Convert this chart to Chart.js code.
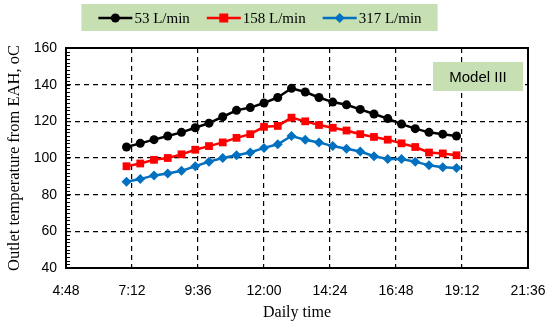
<!DOCTYPE html>
<html>
<head>
<meta charset="utf-8">
<script src="https://cdn.jsdelivr.net/npm/chart.js@4.4.1/dist/chart.umd.min.js"></script>
<style>
  html, body { margin: 0; padding: 0; background: #fff; }
  #wrap { width: 550px; height: 324px; }
</style>
</head>
<body>
<div id="wrap"><canvas id="chart"></canvas></div>
<script>
// Measurements every 30 min, 7:00 - 19:00
const times = ['7:00','7:30','8:00','8:30','9:00','9:30','10:00','10:30','11:00','11:30','12:00','12:30',
               '13:00','13:30','14:00','14:30','15:00','15:30','16:00','16:30','17:00','17:30','18:00','18:30','19:00'];
const flow53  = [106, 108, 110, 112, 114, 116.5, 119, 122.5, 126, 127.5, 130, 133,
                 138, 136, 133, 130.5, 129, 126.5, 124, 121.5, 118.5, 116, 114, 113, 112];
const flow158 = [95.5, 97, 99, 100, 102, 104.5, 106.5, 108.5, 111, 113, 117, 117.5,
                 122, 120, 118, 116.5, 115, 113, 111.5, 110, 108, 106, 103, 102.5, 101.5];
const flow317 = [87, 88.5, 90.5, 91.5, 93, 95.5, 98, 100, 101.5, 103, 105.5, 107.5,
                 112, 110, 108.5, 106.5, 105, 103.5, 101, 99.5, 99.5, 98, 96, 95, 94.5];
const seriesLabels = ['53 L/min', '158 L/min', '317 L/min'];
const xTickLabels = ['4:48', '7:12', '9:36', '12:00', '14:24', '16:48', '19:12', '21:36'];
const yTickValues = [40, 60, 80, 100, 120, 140, 160];

const toHours = t => { const [h, m] = t.split(':').map(Number); return h + m / 60; };
const fmtTime = v => {
    let h = Math.floor(v + 1e-6);
    let m = Math.round((v - h) * 60);
    if (m === 60) { h += 1; m = 0; }
    return h + ':' + String(m).padStart(2, '0');
};
const pts = arr => arr.map((y, i) => ({ x: toHours(times[i]), y: y }));

const styles = [
    { color: '#000000', pointStyle: 'circle', radius: 4.5 },
    { color: '#ff0000', pointStyle: 'rect', radius: 5.5 },
    { color: '#0070c0', pointStyle: 'rectRot', radius: 5 }
];
const serif = '"Liberation Serif", "Times New Roman", serif';
const sans = '"Liberation Sans", Arial, sans-serif';

function drawMarker(ctx, st, x, y) {
    ctx.beginPath();
    if (st.pointStyle === 'circle') ctx.arc(x, y, 4.5, 0, Math.PI * 2);
    else if (st.pointStyle === 'rect') ctx.rect(x - 4.5, y - 4.5, 9, 9);
    else { ctx.moveTo(x, y - 5); ctx.lineTo(x + 5, y); ctx.lineTo(x, y + 5); ctx.lineTo(x - 5, y); ctx.closePath(); }
    ctx.fill();
}

const boxesPlugin = {
    id: 'boxes',
    beforeDatasetsDraw(chart) {
        const { ctx, chartArea: a, scales: { y } } = chart;
        ctx.save();
        // minor ticks on the value axis
        ctx.strokeStyle = '#000'; ctx.lineWidth = 1;
        for (let v = y.min; v <= y.max; v += 2) {
            const py = Math.round(y.getPixelForValue(v)) + 0.5;
            ctx.beginPath(); ctx.moveTo(a.left, py); ctx.lineTo(a.left + 4, py); ctx.stroke();
        }
        ctx.lineWidth = 2;
        ctx.strokeRect(a.left, a.top, a.right - a.left, a.bottom - a.top);
        // "Model III" label
        const bx = a.right - 95, by = a.top + 14, bw = 90, bh = 29;
        ctx.fillStyle = '#c6e0b4';
        ctx.fillRect(bx, by, bw, bh);
        ctx.fillStyle = '#000';
        ctx.font = '15px ' + sans;
        ctx.textAlign = 'center'; ctx.textBaseline = 'middle';
        ctx.fillText('Model III', bx + bw / 2, by + bh / 2 + 1);
        ctx.restore();
    },
    afterDraw(chart) {
        // legend: line + marker, then label, on a green band
        const ctx = chart.ctx;
        const ds = chart.data.datasets;
        ctx.save();
        ctx.font = '15px ' + serif;
        const iconW = 34, textGap = 2, itemGap = 17;
        const widths = ds.map(d => iconW + textGap + ctx.measureText(d.label).width);
        const total = widths.reduce((s, w) => s + w, 0) + itemGap * (ds.length - 1);
        const cx = (chart.chartArea.left + chart.chartArea.right) / 2 - 37;
        let x = cx - total / 2;
        const cy = 18;
        ctx.fillStyle = '#c6e0b4';
        ctx.fillRect(x - 17, 4, total + 33, 27);
        ds.forEach((d, i) => {
            const st = styles[i];
            ctx.strokeStyle = st.color; ctx.fillStyle = st.color; ctx.lineWidth = 2.5;
            ctx.beginPath(); ctx.moveTo(x, cy); ctx.lineTo(x + iconW, cy); ctx.stroke();
            drawMarker(ctx, st, x + iconW / 2, cy);
            ctx.fillStyle = '#000';
            ctx.textAlign = 'left'; ctx.textBaseline = 'middle';
            ctx.fillText(d.label, x + iconW + textGap, cy + 1);
            x += widths[i] + itemGap;
        });
        ctx.restore();
    }
};

const noPad = s => { s.paddingLeft = 0; s.paddingRight = 0; s.paddingTop = 0; s.paddingBottom = 0; };

new Chart(document.getElementById('chart'), {
    type: 'line',
    data: {
        datasets: [flow53, flow158, flow317].map((arr, i) => ({
            label: seriesLabels[i],
            data: pts(arr),
            borderColor: styles[i].color,
            backgroundColor: styles[i].color,
            borderWidth: 2.5,
            pointStyle: styles[i].pointStyle,
            pointRadius: styles[i].radius,
            pointBorderWidth: 0,
            tension: 0,
            fill: false
        }))
    },
    options: {
        responsive: true,
        maintainAspectRatio: false,
        animation: false,
        layout: { padding: { top: 48, right: 22, left: 0, bottom: 0 } },
        plugins: {
            legend: { display: false },
            tooltip: { enabled: false }
        },
        scales: {
            x: {
                type: 'linear',
                min: toHours(xTickLabels[0]),
                max: toHours(xTickLabels[xTickLabels.length - 1]),
                afterBuildTicks: s => { s.ticks = xTickLabels.map(t => ({ value: toHours(t) })); },
                afterFit: s => { s.height = 56; noPad(s); },
                grid: { color: '#000', lineWidth: 1.2, drawTicks: false },
                border: { display: false, dash: [5, 4] },
                ticks: {
                    padding: 15,
                    color: '#000',
                    font: { family: sans, size: 14 },
                    callback: v => fmtTime(v)
                },
                title: {
                    display: true,
                    text: 'Daily time',
                    color: '#000',
                    padding: { top: 2, bottom: 2 },
                    font: { family: serif, size: 16 }
                }
            },
            y: {
                min: yTickValues[0],
                max: yTickValues[yTickValues.length - 1],
                afterBuildTicks: s => { s.ticks = yTickValues.map(v => ({ value: v })); },
                afterFit: s => { s.width = 66; noPad(s); },
                grid: { color: '#000', lineWidth: 1.2, drawTicks: false },
                border: { display: false, dash: [5, 4] },
                ticks: {
                    padding: 9,
                    color: '#000',
                    font: { family: sans, size: 14 }
                },
                title: {
                    display: true,
                    text: 'Outlet temperature from EAH, oC',
                    color: '#000',
                    padding: { top: 5, bottom: 2 },
                    font: { family: serif, size: 16.5 }
                }
            }
        }
    },
    plugins: [boxesPlugin]
});
</script>
</body>
</html>
